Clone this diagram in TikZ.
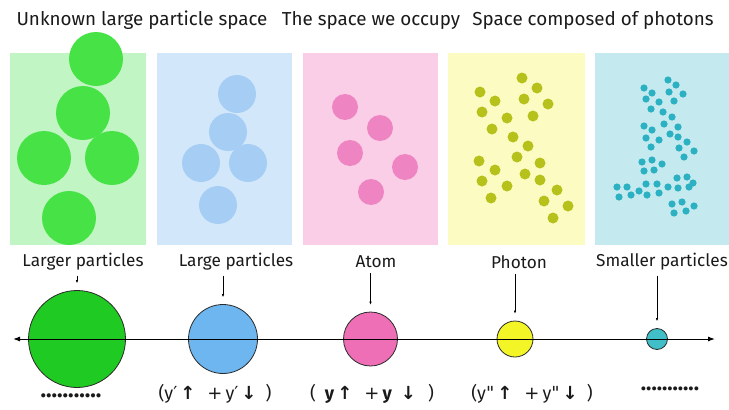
\documentclass[tikz,border=0pt]{standalone}
\usepackage{fontspec}
\setmainfont{Fira Sans}
\newfontfamily\symfont{DejaVu Sans}
\usetikzlibrary{arrows.meta}
\definecolor{ink}{HTML}{1A1A1A}
\definecolor{rim}{HTML}{2B2B2B}
\definecolor{greenbg}{HTML}{C2F5C4}
\definecolor{greendot}{HTML}{46E246}
\definecolor{bluebg}{HTML}{D3E7FB}
\definecolor{bluedot}{HTML}{A6CEF4}
\definecolor{pinkbg}{HTML}{FACEE6}
\definecolor{pinkdot}{HTML}{EE84C2}
\definecolor{yellowbg}{HTML}{FCFCC2}
\definecolor{yellowdot}{HTML}{B6C11C}
\definecolor{cyanbg}{HTML}{C4E9EF}
\definecolor{cyandot}{HTML}{2BB1C2}
\definecolor{bigG}{HTML}{1FCB22}
\definecolor{bigB}{HTML}{6DB6F0}
\definecolor{bigP}{HTML}{EE6FB6}
\definecolor{bigY}{HTML}{F4F526}
\definecolor{bigC}{HTML}{41BFC9}
\newcommand{\up}{{\symfont\bfseries↑}}
\newcommand{\down}{{\symfont\bfseries↓}}
\newcommand{\plus}{{\symfont+}}

\begin{document}
\begin{tikzpicture}[x=1pt,y=-1pt,>=Latex,every node/.style={inner sep=0pt,text=ink,font=\fontsize{17.2}{19}\selectfont},title/.style={font=\fontsize{18.8}{21}\selectfont},formula/.style={font=\fontsize{18}{20}\selectfont},ball/.style={circle,draw=rim,line width=.8pt,inner sep=0pt,minimum size=#1},pointer/.style={->,line width=.5pt,shorten <=5pt,shorten >=7pt,>={Latex[length=3pt,width=2.5pt]}}]
\path[use as bounding box] (0,0) rectangle (729,410);

% spaces
\fill[greenbg] (10,53) rectangle (146,245);
\fill[bluebg] (157,53) rectangle (292,245);
\fill[pinkbg] (303,53) rectangle (438,245);
\fill[yellowbg] (448,53) rectangle (585,245);
\fill[cyanbg] (595,53) rectangle (729,245);

\foreach \x/\y in {96/59,83/113,44/158,112/158,69/218}
  \fill[greendot] (\x,\y) circle[radius=27];
\foreach \x/\y in {237/94,228/132,201/163,248/163,218/205}
  \fill[bluedot] (\x,\y) circle[radius=19];
\foreach \x/\y in {345/107,380/128,350/153,405/167,371/192}
  \fill[pinkdot] (\x,\y) circle[radius=13];
\foreach \x/\y in {522/78,480/92,537/88,495/101,524/99,548/104,482/112,507/118,533/116,492/129,513/137,528/146,479/161,517/157,540/163,495/170,525/174,482/181,540/180,507/186,557/190,491/198,544/201,568/206,553/218}
  \fill[yellowdot] (\x,\y) circle[radius=5.5];
\foreach \x/\y in {668/80,676/85,644/88,652/93,669/92,683/94,646/99,659/102,674/101,651/109,663/112,672/117,644/126,652/130,664/124,678/127,646/138,659/140,670/134,678/137,687/142,651/147,679/148,694/151,684/157,642/162,652/160,662/164,644/171,654/170,677/178,687/177,693/183,617/187,627/187,639/191,646/184,657/184,668/187,678/188,689/187,619/197,631/195,647/195,659/193,672/204,682/202,694/206,674/213,686/211}
  \fill[cyandot] (\x,\y) circle[radius=3.6];

\node[title] (tUnknown) at (142,20) {Unknown large particle space};
\node[title] (tOccupy) at (371,20) {The space we occupy};
\node[title] (tPhotons) at (593,20) {Space composed of photons};

% scale of particles
\node[ball=97pt,fill=bigG] (larger) at (77,339) {};
\node[ball=69pt,fill=bigB] (large) at (223,339) {};
\node[ball=54pt,fill=bigP] (atom) at (370.5,339) {};
\node[ball=36pt,fill=bigY] (photon) at (515,339) {};
\node[ball=21pt,fill=bigC] (smaller) at (657,339) {};
\coordinate (axL) at (13,339);
\coordinate (axR) at (715,339);
\draw[<->,line width=1pt,>={Latex[length=7pt,width=5pt]}] (axL) -- (axR);

\node (lLarger) at (83,262) {Larger particles};
\node (lLarge) at (236,262) {Large particles};
\node (lAtom) at (376,262) {Atom};
\node (lPhoton) at (519,262) {Photon};
\node (lSmaller) at (662,262) {Smaller particles};
\draw[pointer] (lLarger.south -| larger.north) -- (larger.north);
\draw[pointer] (lLarge.south -| large.north) -- (large.north);
\draw[pointer] (lAtom.south -| atom.north) -- (atom.north);
\draw[pointer] (lPhoton.south -| photon.north) -- (photon.north);
\draw[pointer] (lSmaller.south -| smaller.north) -- (smaller.north);

\node[formula] (fLarge) at (215,394) {(y{\symfont′}\,\up\enspace\,\plus\,y{\symfont′}\,\down\enspace)};
\node[formula] (fAtom) at (372,394) {(\enspace\textbf{y}\,\up\enspace\,\plus\,\textbf{y}\enspace\down\enspace\,)};
\node[formula] (fPhoton) at (532,394) {(y{\symfont"}\,\up\enspace\,\plus\,y{\symfont"}\,\down\enspace)};
\node[formula,font=\fontsize{23}{23}\selectfont] (dLarger) at (71,396) {\bfseries ...........};
\node[formula,font=\fontsize{22}{22}\selectfont] (dSmaller) at (670,389) {\bfseries ...........};
\end{tikzpicture}
\end{document}
